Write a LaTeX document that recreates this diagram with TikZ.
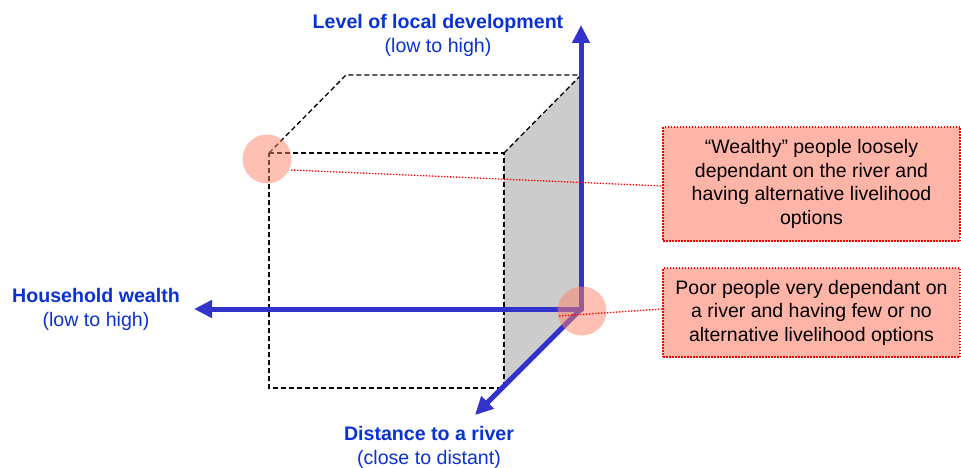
\documentclass[tikz,border=0pt]{standalone}
\usepackage{fontspec}
\setmainfont{Liberation Sans}
\usetikzlibrary{arrows.meta}
\definecolor{axisblue}{RGB}{51,51,204}
\definecolor{labelblue}{RGB}{10,50,210}
\definecolor{boxpink}{RGB}{255,180,168}
\definecolor{circpink}{RGB}{255,130,105}
\definecolor{facegray}{RGB}{204,204,204}
\tikzset{
  axis/.style={draw=axisblue, line width=5pt, -{Triangle[length=18pt,width=17pt]}},
  cubeedge/.style={draw=black, line width=1.3pt, dash pattern=on 5pt off 3pt},
  hotspot/.style={circle, minimum size=49pt, inner sep=0pt, fill=circpink, fill opacity=0.5},
  callout/.style={draw=red, line width=1.2pt, dash pattern=on 1.5pt off 1.5pt, fill=boxpink, align=center,
    font=\fontsize{19.5pt}{23.5pt}\selectfont, inner sep=0pt},
  leader/.style={draw=red, line width=1.3pt, dash pattern=on 1.5pt off 1.5pt},
  axlabel/.style={align=center, text=labelblue, font=\fontsize{19.6pt}{24.5pt}\selectfont}
}
\begin{document}
\begin{tikzpicture}[x=1pt,y=-1pt]
\useasboundingbox (0,0) rectangle (961,468);
% cube corners
\coordinate (ftl) at (269,153);
\coordinate (ftr) at (504,153);
\coordinate (fbl) at (269,388);
\coordinate (fbr) at (504,388);
\coordinate (btl) at (346,75);
\coordinate (btr) at (581,75);
\coordinate (O) at (581,309);
% gray side face
\fill[facegray] (ftr) -- (btr) -- (O) -- (fbr) -- cycle;
% dashed cube edges
\draw[cubeedge] (ftl) -- (ftr) -- (fbr) -- (fbl) -- cycle;
\draw[cubeedge] (ftl) -- (btl) -- (btr);
\draw[cubeedge] (ftr) -- (btr);
% axes
\coordinate (Oup) at (581,311);
\coordinate (Oleft) at (583,309);
\coordinate (up) at (581,25);
\coordinate (left) at (194,309);
\coordinate (down) at (475,415);
\draw[axis] (Oup) -- (up);
\draw[axis] (Oleft) -- (left);
\draw[axis] (O) -- (down);
% axis labels
\node[axlabel] (lup) at (438,35.5) {\textbf{Level of local development}\\(low to high)};
\node[axlabel] (lleft) at (96,309.5) {\textbf{Household wealth}\\(low to high)};
\node[axlabel] (ldown) at (429,447.5) {\textbf{Distance to a river}\\(close to distant)};
% hotspots
\node[hotspot] (c1) at (267,159) {};
\node[hotspot] (c2) at (582,311) {};
% callouts
\node[callout, minimum width=297pt, minimum height=114pt] (b1) at (811.5,184)
  {“Wealthy” people loosely\\dependant on the river and\\having alternative livelihood\\options};
\node[callout, minimum width=297pt, minimum height=89pt] (b2) at (811.5,312.5)
  {Poor people very dependant on\\a river and having few or no\\alternative livelihood options};
% leader lines
\coordinate (s1) at (291,170);
\coordinate (s2) at (559,316);
\draw[leader] (s1) -- (b1.west |- 0,186);
\draw[leader] (s2) -- (b2.west |- 0,309);
\end{tikzpicture}
\end{document}
